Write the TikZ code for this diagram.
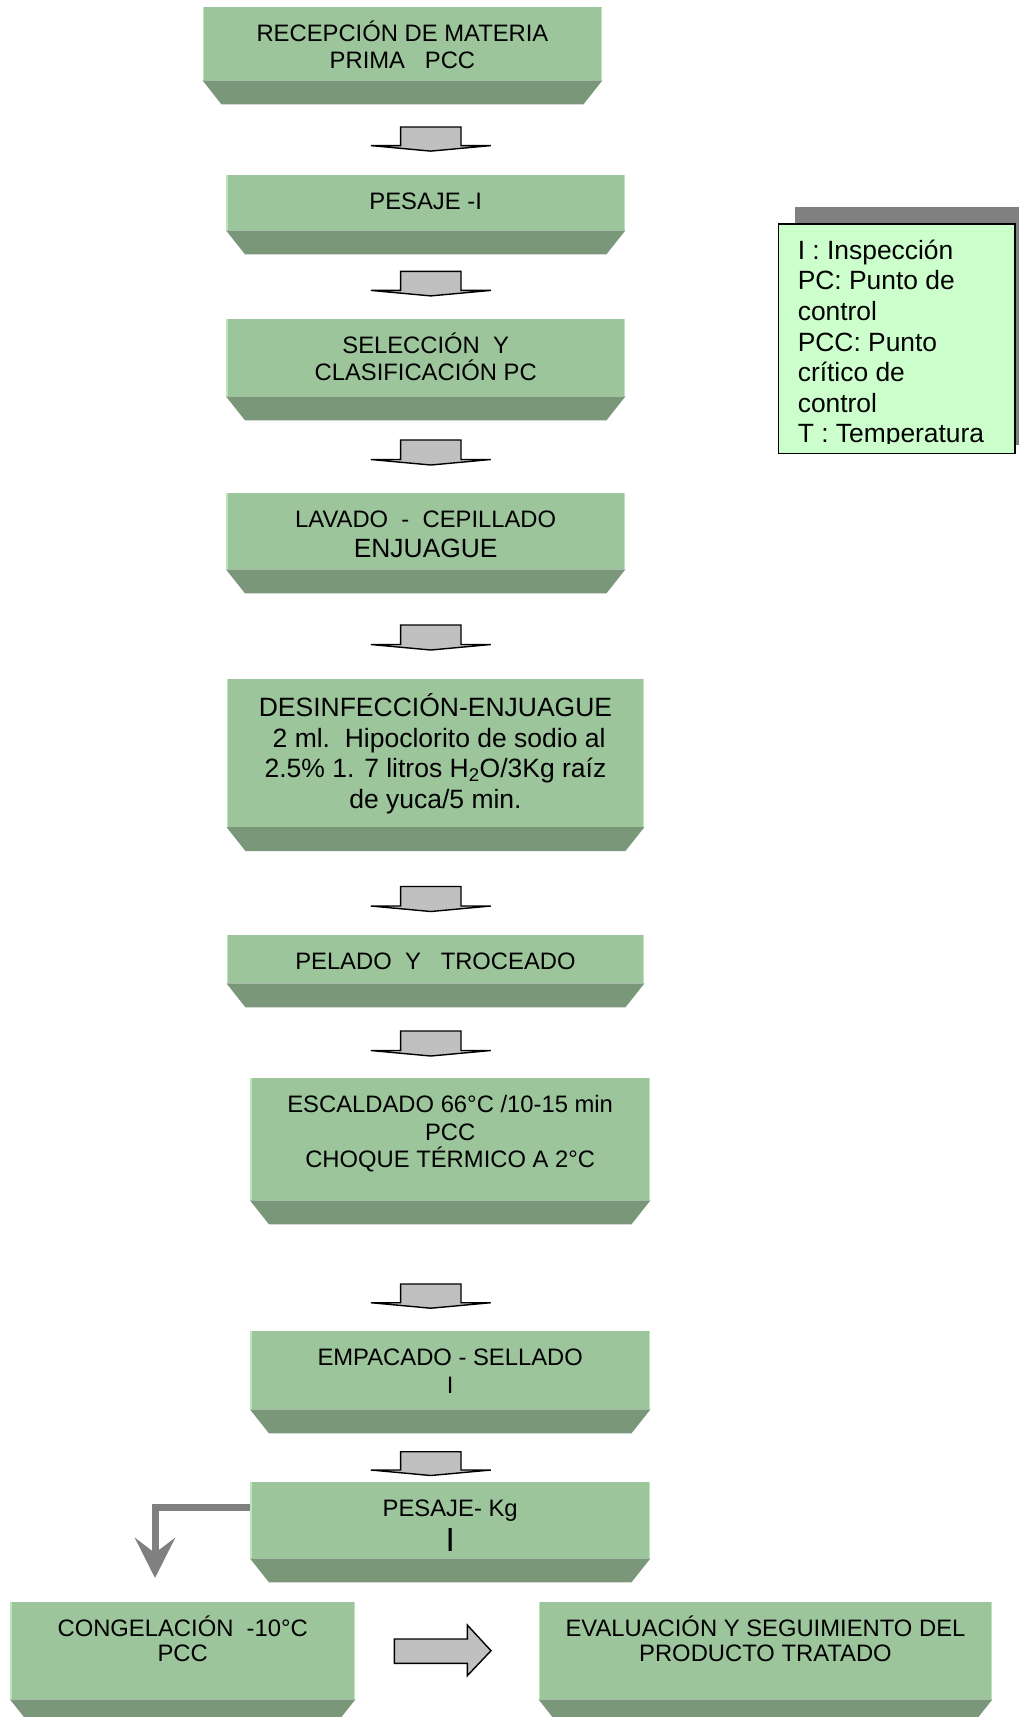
\documentclass[tikz,border=0pt]{standalone}
\usepackage{fontspec}
\setmainfont{Liberation Sans}
\usetikzlibrary{arrows.meta,calc}

\definecolor{facegreen}{HTML}{9CC59C}
\definecolor{bevelgreen}{HTML}{7A977A}
\definecolor{edgegreen}{HTML}{BBE6BB}
\definecolor{legendgreen}{HTML}{CCFFCC}
\definecolor{shadowgray}{HTML}{808080}
\definecolor{arrowgray}{HTML}{C0C0C0}

% strut fixing the height of the first text line
\newcommand\topstrut{\rule{0pt}{1em}}

% process box: face, bevel below it, light side edges and its text
% #1 name, #2 left, #3 top, #4 width, #5 face height, #6 text style, #7 text
\newcommand\procbox[7]{%
  \node[face, minimum width=#4pt, minimum height=#5pt] (#1) at (#2,#3) {};
  \fill[bevelgreen] (#1.south west) -- (#1.south east) -- ++(-19,24)
        -- ($(#1.south west)+(19,24)$) -- cycle;
  \draw[faceedge] ($(#1.north west)+(0.8,0)$) -- ($(#1.south west)+(0.8,0)$);
  \draw[faceedge] ($(#1.north east)+(-0.8,0)$) -- ($(#1.south east)+(-0.8,0)$);
  \node[boxtext, #6] (#1-text) at ($(#1.north)+(0,10.7)$) {\topstrut#7};
}

% flat-headed block arrow pointing down; #1 name, #2 top, #3 body height
\newcommand\downblock[3]{%
  \coordinate (#1) at (430.8,#2);
  \filldraw[blockarrow] ($(#1)+(-30.2,0)$) -- ($(#1)+(30.2,0)$)
    -- ($(#1)+(30.2,#3)$) -- ($(#1)+(60,#3)$) -- ($(#1)+(0,#3+5.5)$)
    -- ($(#1)+(-60,#3)$) -- ($(#1)+(-30.2,#3)$) -- cycle;
}

\begin{document}
\begin{tikzpicture}[x=1pt, y=-1pt,
  face/.style={fill=facegreen, draw=none, inner sep=0pt, anchor=north west},
  faceedge/.style={draw=edgegreen, line width=1.6pt},
  boxtext/.style={anchor=north, align=center, inner sep=0pt},
  txt/.style={font=\fontsize{23.8}{27.4}\selectfont},
  bigtxt/.style={font=\fontsize{26.5}{30.6}\selectfont},
  tighttxt/.style={font=\fontsize{23.8}{25.5}\selectfont},
  blockarrow/.style={fill=arrowgray, draw=black, line width=1.4pt, line join=miter},
  elbow/.style={draw=shadowgray, line width=7pt, line join=miter,
    -{Stealth[length=40pt, width=40pt, inset=15pt]}},
  legendbox/.style={fill=legendgreen, draw=black, line width=1.6pt, inner sep=0pt,
    anchor=north west},
  legendtext/.style={anchor=north west, align=left, inner sep=0pt,
    font=\fontsize{26.4}{30.6}\selectfont}
]
\useasboundingbox (0,0) rectangle (1019,1717);
\clip (0,0) rectangle (1019,1717);

% main process chain
\procbox{b1}{202.5}{6.6}{399.5}{73.4}{txt}{RECEPCIÓN DE MATERIA\\PRIMA\ \ \ PCC}
\downblock{a1}{127}{18.6}
\procbox{b2}{226}{174.5}{399}{55.5}{txt}{PESAJE -I}
\downblock{a2}{271.4}{19}
\procbox{b3}{226}{318.5}{399}{77.5}{txt}{SELECCIÓN\ \ Y\\CLASIFICACIÓN PC}
\downblock{a3}{440}{19.5}
\procbox{b4}{226}{492.5}{399}{76.5}{txt}{LAVADO\ \ -\ \ CEPILLADO\\[3pt]\fontsize{26.4}{30.4}\selectfont ENJUAGUE}
\downblock{a4}{625}{19.5}
\procbox{b5}{226.5}{679}{417.5}{147.7}{bigtxt}{DESINFECCIÓN-ENJUAGUE\\\ 2 ml.\ \ Hipoclorito de sodio al\\2.5\% 1. 7 litros H\textsubscript{2}O/3Kg raíz\\de yuca/5 min.}
\downblock{a5}{886.5}{19.5}
\procbox{b6}{226.5}{935}{417.5}{48}{txt}{PELADO\ \ Y\ \ \ TROCEADO}
\downblock{a6}{1031}{19.5}
\procbox{b7}{250}{1078}{400}{122}{txt}{ESCALDADO 66°C /10-15 min\\PCC\\CHOQUE TÉRMICO A 2°C}
\downblock{a7}{1284}{18.7}
\procbox{b8}{250}{1331}{400}{78}{txt}{EMPACADO - SELLADO\\I}
\downblock{a8}{1451.7}{18.3}
\procbox{b9}{250}{1482}{400}{76}{txt}{PESAJE- Kg\\[7.1pt]\smash{\fontsize{33.5}{38}\selectfont I}}

% final branch
\procbox{b10}{10}{1601.5}{345}{97.5}{tighttxt}{CONGELACIÓN\ \ -10°C\\PCC}
\procbox{b11}{538.5}{1601.5}{453.5}{97.5}{tighttxt}{EVALUACIÓN Y SEGUIMIENTO DEL\\PRODUCTO TRATADO}

\coordinate (c10) at (155,1578);
\draw[elbow] ($(b9.north west)+(0,25)$) -| (c10);

\coordinate (ra) at (394.3,1651.2);
\filldraw[blockarrow] ($(ra)+(0,-12.2)$) -- ($(ra)+(73,-12.2)$) -- ($(ra)+(73,-26.2)$)
  -- ($(ra)+(96.7,-0.5)$) -- ($(ra)+(73,24.5)$) -- ($(ra)+(73,12.1)$)
  -- ($(ra)+(0,12.1)$) -- cycle;

% legend with its shadow
\fill[shadowgray] (794.5,206.7) rectangle (1031,445);
\node[legendbox, minimum width=236.8pt, minimum height=229.2pt] (legend) at (777.5,223.3) {};
\begin{scope}
  \clip (777.5,223.3) rectangle (1014.3,443.5);
  \node[legendtext] (legend-text) at (797.6,232.6)
    {\topstrut I : Inspección\\PC: Punto de\\control\\PCC: Punto\\crítico de\\control\\T : Temperatura};
\end{scope}
\end{tikzpicture}
\end{document}
